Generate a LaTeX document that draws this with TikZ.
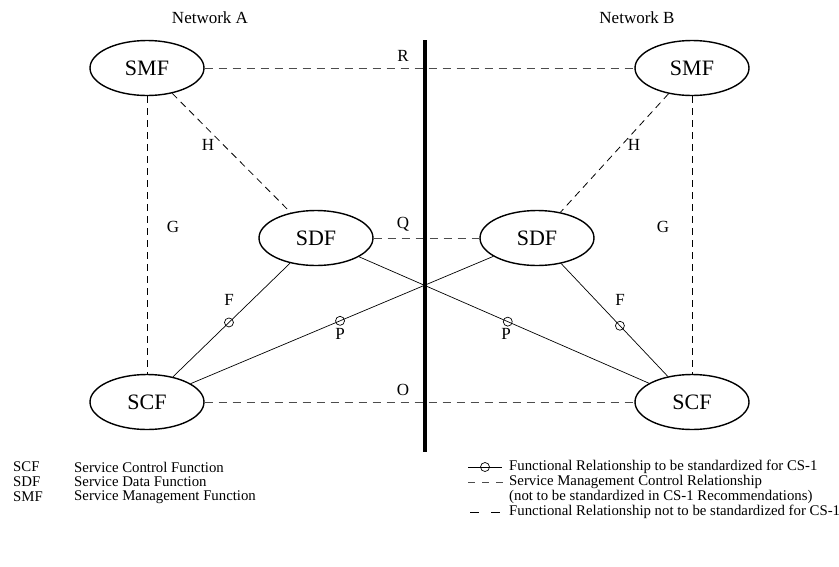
\documentclass[tikz,border=0pt]{standalone}
\usepackage{fontspec}
\setmainfont{Liberation Serif}
\usetikzlibrary{shapes.geometric,calc}
\begin{document}
\begin{tikzpicture}[x=1pt,y=-1pt,
  fn/.style={ellipse,draw,line width=1.4pt,minimum width=114pt,minimum height=55pt,inner sep=0pt,font=\fontsize{22}{24}\selectfont},
  lbl/.style={font=\fontsize{17}{18}\selectfont,inner sep=0pt},
  smc/.style={draw=black!70,line width=0.9pt,dash pattern=on 8pt off 6pt},
  frd/.style={draw=black,line width=0.8pt,dash pattern=on 7pt off 5pt},
  frs/.style={draw=black,line width=0.7pt},
  circ/.style={circle,draw,line width=0.7pt,inner sep=0pt,minimum size=9pt},
  leg/.style={font=\fontsize{14.8}{15}\selectfont,inner sep=0pt,anchor=west}]
\useasboundingbox (0,0) rectangle (839,566);
% nodes
\node[fn] (SMFA) at (147,68) {SMF};
\node[fn] (SMFB) at (692,68) {SMF};
\node[fn] (SDFA) at (316,238) {SDF};
\node[fn] (SDFB) at (537,238) {SDF};
\node[fn] (SCFA) at (147,402) {SCF};
\node[fn] (SCFB) at (692,402) {SCF};
% titles
\node[lbl] (netA) at (210,18) {Network A};
\node[lbl] (netB) at (637,18) {Network B};
% dashed relations
\draw[smc] (SMFA) -- (SMFB);
\draw[smc] (SDFA) -- (SDFB);
\draw[smc] (SCFA) -- (SCFB);
\draw[frd] (SMFA) -- (SDFA);
\draw[frd] (SMFB) -- (SDFB);
\draw[frd] (SMFA) -- (SCFA);
\draw[frd] (SMFB) -- (SCFB);
% solid relations
\draw[frs] (SDFA) -- (SCFA);
\draw[frs] (SDFB) -- (SCFB);
\draw[frs] (SCFA) -- (SDFB);
\draw[frs] (SDFA) -- (SCFB);
\node[circ] (mFA) at ($(SDFA)!0.515!(SCFA)$) {};
\node[circ] (mFB) at ($(SDFB)!0.535!(SCFB)$) {};
\node[circ] (mPA) at ($(SCFA)!0.495!(SDFB)$) {};
\node[circ] (mPB) at ($(SDFA)!0.51!(SCFB)$) {};
% boundary
\coordinate (bt) at (425,40);
\coordinate (bb) at (425,452);
\draw[line width=4pt] (bt) -- (bb);
% labels
\node[lbl] (lR) at (403,56) {R};
\node[lbl] (lQ) at (403,224) {Q};
\node[lbl] (lO) at (403,390) {O};
\node[lbl] (lHA) at (208,145) {H};
\node[lbl] (lHB) at (634,145) {H};
\node[lbl] (lGA) at (173,227) {G};
\node[lbl] (lGB) at (663,227) {G};
\node[lbl] (lFA) at (229,300) {F};
\node[lbl] (lFB) at (620,300) {F};
\node[lbl] (lPA) at (340,334) {P};
\node[lbl] (lPB) at (506,334) {P};
% legend left
\node[leg] (a1) at (13,467) {SCF};
\node[leg] (a2) at (13,482) {SDF};
\node[leg] (a3) at (13,497) {SMF};
\node[leg] (d1) at (74,467) {Service Control Function};
\node[leg] (d2) at (74,482) {Service Data Function};
\node[leg] (d3) at (74,497) {Service Management Function};
% legend right
\coordinate (s1a) at (468,467); \coordinate (s1b) at (502,467);
\draw[frs] (s1a) -- (s1b);
\node[circ] (s1c) at ($(s1a)!0.5!(s1b)$) {};
\coordinate (s2a) at (468,482); \coordinate (s2b) at (503,482);
\draw[draw=black!70,line width=0.9pt,dash pattern=on 7pt off 7pt] (s2a) -- (s2b);
\coordinate (s4a) at (470,512); \coordinate (s4b) at (500,512);
\draw[draw=black,line width=0.8pt,dash pattern=on 9pt off 12pt] (s4a) -- (s4b);
\node[leg] (t1) at (509,467) {Functional Relationship to be standardized for CS-1};
\node[leg] (t2) at (509,482) {Service Management Control Relationship};
\node[leg] (t3) at (509,497) {(not to be standardized in CS-1 Recommendations)};
\node[leg] (t4) at (509,512) {Functional Relationship not to be standardized for CS-1};
\end{tikzpicture}
\end{document}
